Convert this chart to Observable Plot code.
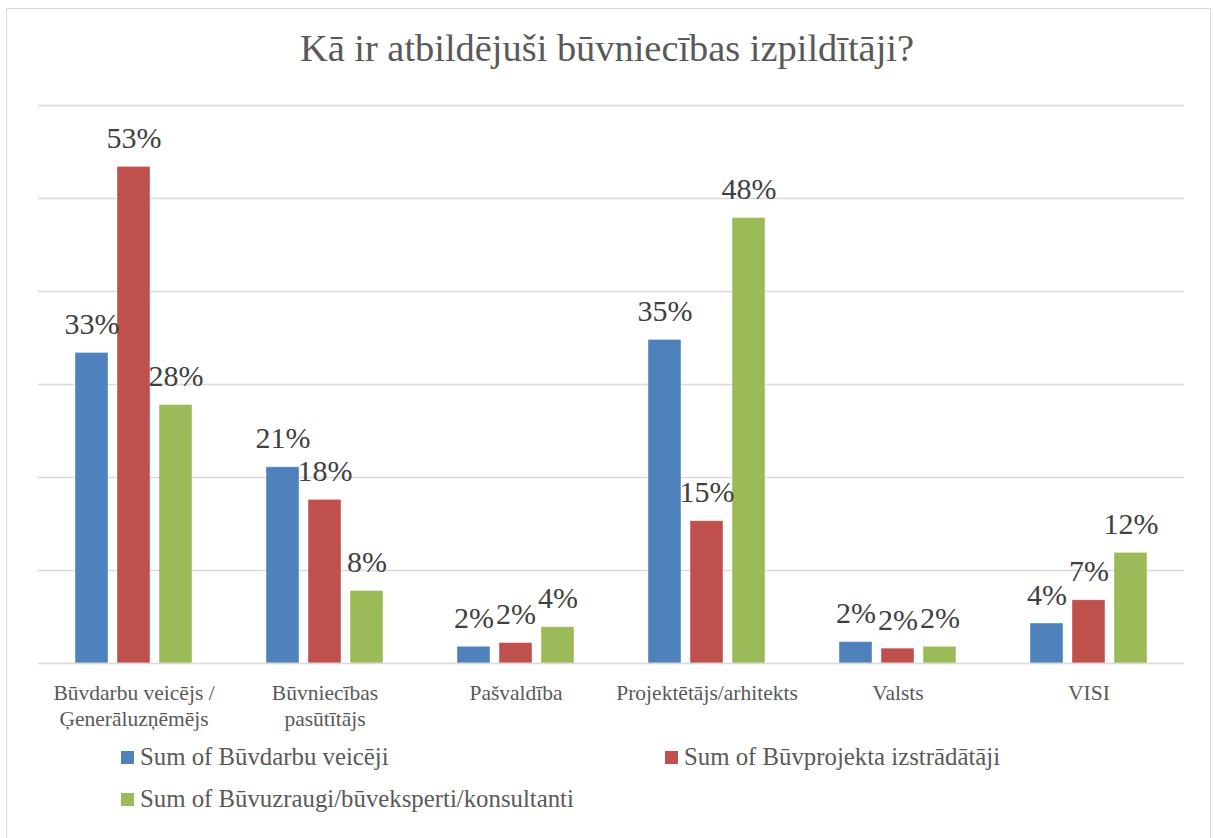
<!DOCTYPE html>
<html>
<head>
<meta charset="utf-8">
<script src="https://cdn.jsdelivr.net/npm/d3@7"></script>
<script src="https://cdn.jsdelivr.net/npm/@observablehq/plot@0.6"></script>
<style>
html, body { margin: 0; padding: 0; background: #fff; overflow: hidden; }
#wrap { position: relative; width: 1214px; height: 838px; font-family: "Liberation Serif", "Times New Roman", Times, Tinos, "DejaVu Serif", serif; }
#frame { position: absolute; left: 6px; top: 8px; width: 1205px; height: 840px; border: 1px solid #d9d9d9; box-sizing: border-box; }
#title { position: absolute; left: 0; top: 29px; width: 1214px; text-align: center; font-size: 38.4px; line-height: 1; color: #595959; }
#chart { position: absolute; left: 0; top: 0; }
#legend { position: absolute; left: 121px; top: 736px; width: 1090px; display: flex; flex-wrap: wrap; }
.item { width: 544px; height: 42px; line-height: 42px; display: flex; align-items: center; font-size: 24.8px; color: #595959; white-space: nowrap; }
.sw { width: 13px; height: 13px; margin-right: 6px; flex: none; }
</style>
</head>
<body>
<div id="wrap">
  <div id="frame"></div>
  <div id="chart"></div>
  <div id="title">Kā ir atbildējuši būvniecības izpildītāji?</div>
  <div id="legend"></div>
</div>
<script>
const categories = ["Būvdarbu veicējs / Ģenerāluzņēmējs", "Būvniecības pasūtītājs", "Pašvaldība", "Projektētājs/arhitekts", "Valsts", "VISI"];
const categoryLabels = ["Būvdarbu veicējs /\nĢenerāluzņēmējs", "Būvniecības\npasūtītājs", "Pašvaldība", "Projektētājs/arhitekts", "Valsts", "VISI"];
const series = ["Sum of Būvdarbu veicēji", "Sum of Būvprojekta izstrādātāji", "Sum of Būvuzraugi/būveksperti/konsultanti"];
const builders    = [0.334, 0.211, 0.018, 0.348, 0.023, 0.043];
const designers   = [0.534, 0.176, 0.022, 0.153, 0.016, 0.068];
const supervisors = [0.278, 0.078, 0.039, 0.479, 0.018, 0.119];
const colors = ["#4F81BD", "#C0504D", "#9BBB59"];
const gridTicks = [0.1, 0.2, 0.3, 0.4, 0.5, 0.6];

const seriesValues = [builders, designers, supervisors];
const rows = categories.flatMap((c, i) => series.map((s, j) => ({category: c, series: s, value: seriesValues[j][i]})));

const W = 1214, mL = 36, mR = 28;
const facetHalf = (W - mL - mR) / categories.length / 2;
const serif = "'Liberation Serif', 'Times New Roman', Times, Tinos, 'DejaVu Serif', serif";

const chart = Plot.plot({
  width: W,
  height: 740,
  marginTop: 105,
  marginBottom: 77,
  marginLeft: mL,
  marginRight: mR,
  style: {fontFamily: serif, background: "transparent", overflow: "visible"},
  fx: {domain: categories, paddingInner: 0, paddingOuter: 0, label: null},
  x: {domain: series, paddingInner: 0.216, paddingOuter: 0.863, axis: null},
  y: {domain: [0, 0.6], axis: null},
  color: {domain: series, range: colors},
  marks: [
    Plot.ruleY(gridTicks, {stroke: "#d9d9d9", strokeWidth: 1.3}),
    Plot.barY(rows, {fx: "category", x: "series", y: "value", fill: "series", stroke: "white", strokeWidth: 0.7, strokeOpacity: 0.6}),
    Plot.ruleY([0], {stroke: "#d9d9d9", strokeWidth: 1.5}),
    Plot.ruleX(categories, {fx: d => d, y1: 0, y2: -0.0065, dx: -facetHalf, stroke: "#d9d9d9", strokeWidth: 1.5}),
    Plot.ruleX(categories.slice(-1), {fx: d => d, y1: 0, y2: -0.0065, dx: facetHalf, stroke: "#d9d9d9", strokeWidth: 1.5}),
    Plot.text(rows, {fx: "category", x: "series", y: "value", text: d => Math.round(d.value * 100) + "%", dy: -19, lineAnchor: "bottom", fontSize: 30, fontFamily: serif, fill: "#404040"}),
    Plot.axisFx({anchor: "bottom", tickSize: 0, tickPadding: 18, fontSize: 21.5, fontFamily: serif, lineHeight: 1.21, fill: "#595959", label: null, tickFormat: d => categoryLabels[categories.indexOf(d)]})
  ]
});
document.getElementById("chart").appendChild(chart);

const legend = document.getElementById("legend");
series.forEach((s, i) => {
  const item = document.createElement("div");
  item.className = "item";
  const sw = document.createElement("span");
  sw.className = "sw";
  sw.style.background = colors[i];
  const t = document.createElement("span");
  t.textContent = s;
  item.appendChild(sw);
  item.appendChild(t);
  legend.appendChild(item);
});
</script>
</body>
</html>
